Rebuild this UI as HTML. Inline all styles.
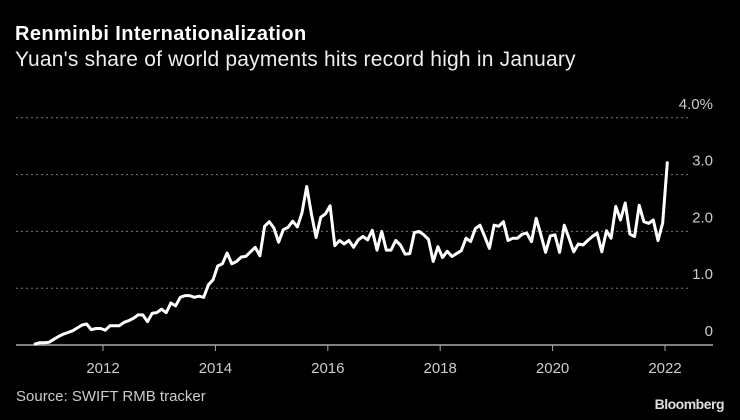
<!DOCTYPE html>
<html><head><meta charset="utf-8"><style>
html,body{margin:0;padding:0;background:#000;}
body{width:740px;height:420px;overflow:hidden;font-family:"Liberation Sans",sans-serif;position:relative;}
.t{position:absolute;color:#fff;white-space:nowrap;}
</style></head><body>
<div class="t" style="left:15px;top:23px;font-size:20px;font-weight:bold;letter-spacing:0.4px;">Renminbi Internationalization</div>
<div class="t" style="left:15px;top:48px;font-size:21px;color:#eee;letter-spacing:0.2px;">Yuan's share of world payments hits record high in January</div>
<svg id="chart" width="740" height="420" style="position:absolute;left:0;top:0;"></svg>
<div class="t" style="left:16px;top:388px;font-size:15px;color:#ccc;">Source: SWIFT RMB tracker</div>
<div class="t" style="right:16px;top:396px;font-size:14px;font-weight:bold;color:#ddd;letter-spacing:-0.5px;">Bloomberg</div>
<script>
const startYear = 2010, startMonth = 9; // Oct 2010 (0-based month)
const shareValues = [
0.02,0.04,0.04,
0.05,0.10,0.15,0.19,0.22,0.25,0.30,0.35,0.37,0.27,0.29,0.29,
0.26,0.34,0.34,0.34,0.40,0.43,0.47,0.53,0.53,0.41,0.56,0.57,
0.63,0.57,0.74,0.69,0.84,0.87,0.87,0.84,0.86,0.84,1.06,1.15,
1.39,1.43,1.62,1.43,1.47,1.55,1.56,1.64,1.72,1.57,2.09,2.17,
2.06,1.81,2.03,2.07,2.18,2.08,2.33,2.79,2.31,1.89,2.25,2.31,
2.45,1.75,1.84,1.78,1.84,1.72,1.85,1.91,1.85,2.02,1.67,2.00,
1.67,1.67,1.84,1.76,1.60,1.61,1.98,2.00,1.94,1.86,1.47,1.73,
1.54,1.65,1.56,1.61,1.66,1.88,1.82,2.05,2.11,1.91,1.70,2.11,
2.09,2.17,1.84,1.88,1.88,1.95,1.97,1.82,2.23,1.94,1.63,1.92,
1.94,1.63,2.11,1.88,1.64,1.78,1.76,1.84,1.91,1.97,1.64,2.01,
1.88,2.44,2.20,2.50,1.95,1.91,2.46,2.17,2.14,2.20,1.84,2.15,
3.21];
const yTicks = [0,1,2,3,4];
const yTickLabels = ["0","1.0","2.0","3.0","4.0%"];
const xTicks = [2012,2014,2016,2018,2020,2022];
const xTickLabels = ["2012","2014","2016","2018","2020","2022"];

const NS = "http://www.w3.org/2000/svg";
const svg = document.getElementById("chart");
const x = t => 103 + (t - 2012) * 56.2;
const y = v => 345 - v * 56.8;
function mk(tag, attrs){const e=document.createElementNS(NS,tag);for(const k in attrs)e.setAttribute(k,attrs[k]);svg.appendChild(e);return e;}

yTicks.forEach((v,i)=>{
  if(v>0){
    const g=mk("line",{x1:16,x2:690,y1:y(v),y2:y(v),stroke:"#777","stroke-width":1,"stroke-dasharray":"2,3"});
    
    
  }
  const t=mk("text",{x:713,y:y(v)-9,"text-anchor":"end","font-size":15,fill:"#ccc","font-family":"Liberation Sans, sans-serif"});
  t.textContent=yTickLabels[i];
  
  
});
const ax=mk("line",{x1:16,x2:713,y1:345,y2:345,stroke:"#aaa","stroke-width":1.5});


xTicks.forEach((yr,i)=>{
  const tk=mk("line",{x1:x(yr),x2:x(yr),y1:345,y2:351,stroke:"#aaa","stroke-width":1});
  
  
  const t=mk("text",{x:x(yr),y:373,"text-anchor":"middle","font-size":15,fill:"#ccc","font-family":"Liberation Sans, sans-serif"});
  t.textContent=xTickLabels[i];
  
  
});
const pts=shareValues.map((v,i)=>{const t=startYear+(startMonth+i+0.5)/12;return x(t).toFixed(1)+","+y(v).toFixed(1);});
const line=mk("polyline",{points:pts.join(" "),fill:"none",stroke:"#fff","stroke-width":3,"stroke-linejoin":"round","stroke-linecap":"round"});


</script>
</body></html>
